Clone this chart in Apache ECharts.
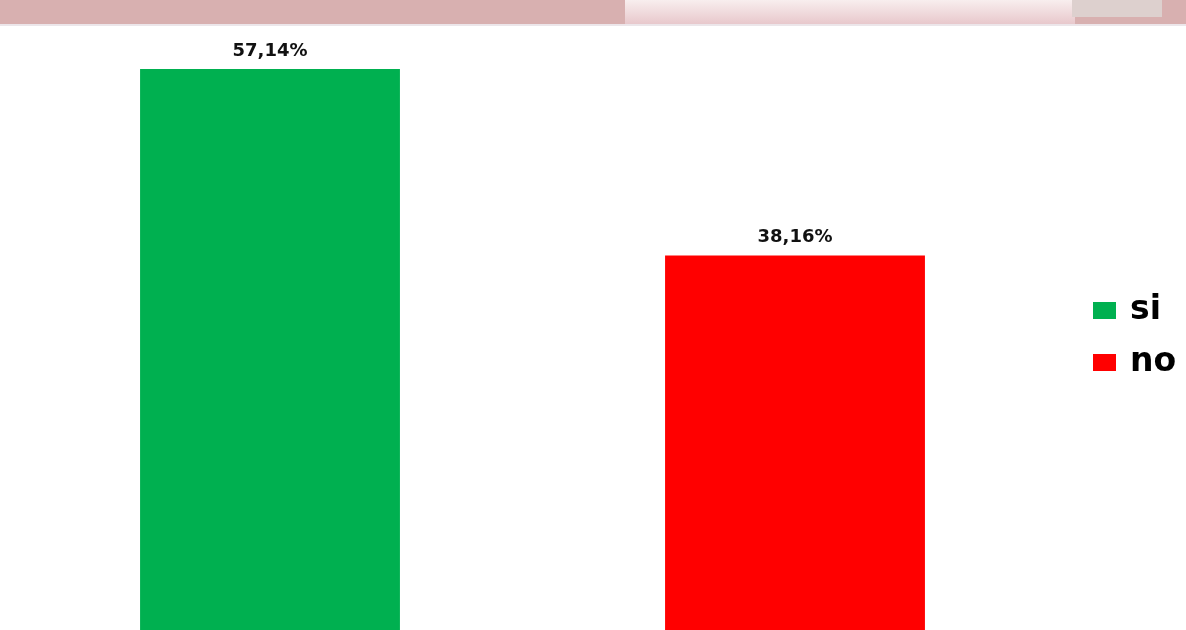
<!DOCTYPE html>
<html>
<head>
<meta charset="utf-8">
<script src="https://cdn.jsdelivr.net/npm/echarts@6/dist/echarts.min.js"></script>
<style>
  html, body { margin: 0; padding: 0; background: #fff; }
  #chart { width: 1186px; height: 630px; }
</style>
</head>
<body>
<div id="chart"></div>
<script>
const categories = ["si", "no"];
const siValues = [57.14, "-"];
const noValues = ["-", 38.16];

(function answerChart() {
  var dom = document.getElementById("chart");
  var myChart = echarts.init(dom, null, { renderer: "canvas" });

  function pct(p) {
    return p.value.toFixed(2).replace(".", ",") + "%";
  }

  var label = {
    show: true,
    position: "top",
    distance: 9,
    fontFamily: "DejaVu Sans",
    fontWeight: "bold",
    fontSize: 18,
    color: "#111",
    formatter: pct,
  };

  var option = {
    animation: false,
    backgroundColor: "#fff",
    graphic: [
      { type: "rect", shape: { x: 0, y: 0, width: 1186, height: 24 }, style: { fill: "#d8b0b0" } },
      {
        type: "rect",
        shape: { x: 625, y: 0, width: 450, height: 24 },
        style: {
          fill: new echarts.graphic.LinearGradient(0, 0, 0, 1, [
            { offset: 0, color: "#f8eeee" },
            { offset: 1, color: "#e8c8cc" },
          ]),
        },
      },
      { type: "rect", shape: { x: 1072, y: 0, width: 90, height: 17 }, style: { fill: "#ddd0ce" } },
      { type: "rect", shape: { x: 0, y: 24, width: 1186, height: 2 }, style: { fill: "#ece6ea" } },
    ],
    legend: {
      data: ["si", "no"],
      orient: "vertical",
      left: 1088,
      top: 289,
      icon: "rect",
      itemWidth: 23,
      itemHeight: 17,
      itemGap: 19,
      textStyle: {
        fontFamily: "DejaVu Sans",
        fontWeight: "bold",
        fontSize: 33,
        color: "#000",
        padding: [0, 0, 0, 9],
      },
    },
    grid: {
      left: 7.5,
      right: 128.5,
      top: 41,
      bottom: 0,
    },
    xAxis: {
      type: "category",
      data: categories,
      show: false,
    },
    yAxis: {
      type: "value",
      min: 0,
      max: 60,
      show: false,
      splitLine: { show: false },
    },
    series: [
      {
        name: "si",
        type: "bar",
        stack: "one",
        barWidth: "49.5%",
        itemStyle: { color: "#00b050" },
        label: label,
        data: siValues,
      },
      {
        name: "no",
        type: "bar",
        stack: "one",
        barWidth: "49.5%",
        itemStyle: { color: "#ff0000" },
        label: label,
        data: noValues,
      },
    ],
  };

  option && myChart.setOption(option);
})();
</script>
</body>
</html>
